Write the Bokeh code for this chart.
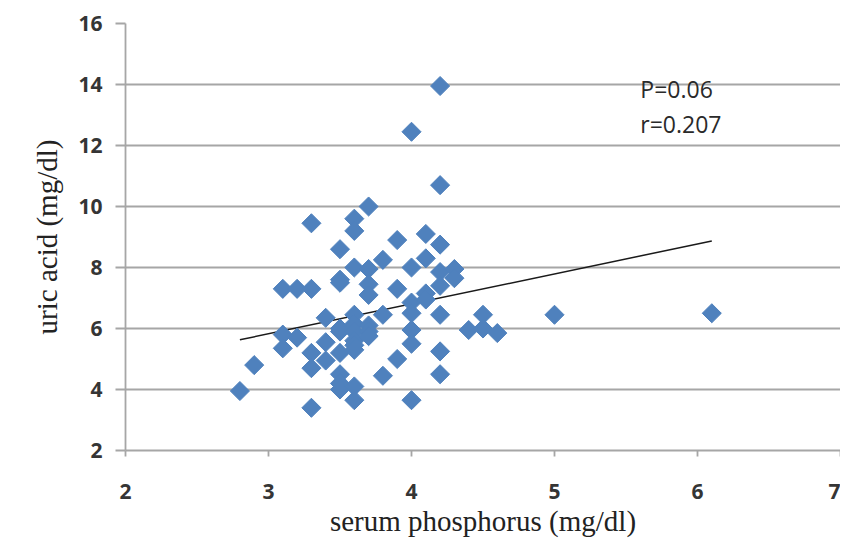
import math
from bokeh.plotting import figure
from bokeh.models import Label, Range1d, FixedTicker
from bokeh.embed import file_html
from bokeh.resources import INLINE

# Data
phosphorus = [2.8, 2.9, 3.1, 3.2, 3.3, 3.3, 3.1, 3.1, 3.2, 3.3, 3.3, 3.3,
              3.4, 3.4, 3.4, 3.5, 3.5, 3.5, 3.5, 3.5, 3.5, 3.5, 3.5, 3.5,
              3.6, 3.6, 3.6, 3.6, 3.6, 3.6, 3.6, 3.6, 3.6, 3.6, 3.6,
              3.7, 3.7, 3.7, 3.7, 3.7, 3.7, 3.7,
              3.8, 3.8, 3.8, 3.9, 3.9, 3.9,
              4.0, 4.0, 4.0, 4.0, 4.0, 4.0, 4.0,
              4.1, 4.1, 4.1, 4.1,
              4.2, 4.2, 4.2, 4.2, 4.2, 4.2, 4.2, 4.2,
              4.3, 4.3, 4.4, 4.5, 4.5, 4.6, 5.0, 6.1]
uric_acid = [3.95, 4.8, 7.3, 7.3, 7.3, 9.45, 5.8, 5.35, 5.7, 5.2, 4.7, 3.4,
             6.35, 5.55, 4.95, 8.6, 7.6, 7.5, 6.0, 5.9, 5.2, 4.5, 4.2, 4.0,
             9.6, 9.2, 8.0, 6.45, 6.15, 5.9, 5.6, 5.45, 5.3, 4.1, 3.65,
             10.0, 7.95, 7.45, 7.1, 6.1, 5.9, 5.75,
             8.25, 6.45, 4.45, 8.9, 7.3, 5.0,
             12.45, 8.0, 6.85, 6.5, 5.95, 5.5, 3.65,
             9.1, 8.3, 7.15, 6.95,
             13.95, 10.7, 8.75, 7.85, 7.4, 6.45, 5.25, 4.5,
             7.95, 7.65, 5.95, 6.45, 6.0, 5.85, 6.45, 6.5]

trend_x = [2.8, 6.1]
trend_y = [5.63, 8.87]

x_ticks = [2, 3, 4, 5, 6, 7]
y_ticks = [2, 4, 6, 8, 10, 12, 14, 16]

stat_lines = ["P=0.06", "r=0.207"]
stat_x = 5.6
stat_y = [13.85, 12.7]

p = figure(width=840, height=541, output_backend="svg", toolbar_location=None,
           x_range=Range1d(2, 7), y_range=Range1d(2, 16),
           min_border_left=125, min_border_right=0, min_border_top=23,
           min_border_bottom=91)
p.outline_line_color = None
p.background_fill_color = "white"

p.xgrid.grid_line_color = None
p.ygrid.grid_line_color = "#a6a6a6"
p.ygrid.grid_line_width = 1.8
p.ygrid.ticker = FixedTicker(ticks=y_ticks)

p.xaxis.ticker = FixedTicker(ticks=x_ticks)
p.yaxis.ticker = FixedTicker(ticks=y_ticks)

for ax in (p.xaxis, p.yaxis):
    ax.axis_line_color = "#a6a6a6"
    ax.axis_line_width = 1.8
    ax.major_tick_line_color = "#a6a6a6"
    ax.major_tick_line_width = 1.8
    ax.minor_tick_line_color = None
    ax.major_tick_in = 0
    ax.major_label_text_font = "Open Sans"
    ax.major_label_text_font_size = "21px"
    ax.major_label_text_font_style = "bold"
    ax.major_label_text_color = "#353535"
    ax.axis_label_text_font = "Liberation Serif"
    ax.axis_label_text_font_size = "29px"
    ax.axis_label_text_font_style = "normal"
    ax.axis_label_text_color = "#222222"

p.yaxis.major_tick_out = 10
p.yaxis.major_label_standoff = 13
p.xaxis.major_tick_out = 6
p.xaxis.major_label_standoff = 27
p.xaxis.axis_label = "serum phosphorus (mg/dl)"
p.yaxis.axis_label = "uric acid (mg/dl)"
p.xaxis.axis_label_standoff = 3
p.yaxis.axis_label_standoff = 12

p.line(trend_x, trend_y, line_color="#1a1a1a", line_width=1.5)
p.scatter(phosphorus, uric_acid, marker="square", angle=math.pi / 4,
          size=13.5, fill_color="#4f81bd", line_color="#4f81bd", line_width=1)

for txt, yy in zip(stat_lines, stat_y):
    p.add_layout(Label(x=stat_x, y=yy, text=txt, text_font="Open Sans",
                       text_font_size="23px", text_color="#2a2a2a",
                       text_baseline="middle", text_align="left"))

open("out.html", "w").write(file_html(p, INLINE))
